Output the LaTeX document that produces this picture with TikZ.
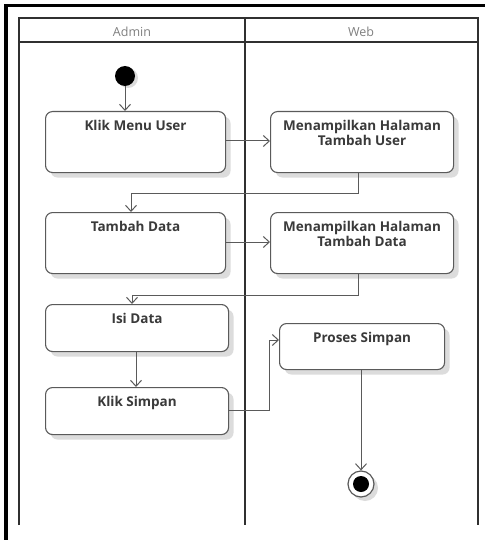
\documentclass[tikz,border=0pt]{standalone}
\usepackage{fontspec}
\setmainfont{Open Sans}
\usetikzlibrary{arrows.meta,shadows}
\definecolor{boxline}{HTML}{5A5A5A}
\definecolor{laneline}{HTML}{303030}
\definecolor{shade}{HTML}{DCDCDC}
\definecolor{labeltext}{HTML}{3A3A3A}
\tikzset{
  act/.style={draw=boxline, line width=1.1pt, fill=white, rounded corners=7pt,
    minimum width=180pt, minimum height=61pt, anchor=north west,
    inner sep=0pt,
    drop shadow={shadow xshift=5pt, shadow yshift=-5pt, fill=shade, opacity=1}},
  actlabel/.style={anchor=north, font=\bfseries\fontsize{13.5}{15}\selectfont,
    text=labeltext, align=center, inner sep=0pt},
  flow/.style={draw=boxline, line width=1pt,
    -{Straight Barb[length=6pt,width=11pt,line width=1pt]}},
  lane/.style={draw=laneline, line width=1.6pt},
  head/.style={font=\fontsize{12.5}{13}\selectfont, text=black!50}
}
\begin{document}
\begin{tikzpicture}[x=1pt,y=-1pt]
  % canvas and frame edges (top and left only)
  \useasboundingbox (0,0) rectangle (485,540);
  \fill[white] (0,0) rectangle (485,540);
  \draw[line width=3.5pt] (6,540) -- (6,5.5) -- (485,5.5);

  % swimlanes
  \draw[lane] (19,525) -- (19,18) -- (478,18) -- (478,525);
  \draw[lane] (19,42) -- (478,42);
  \draw[lane] (245,18) -- (245,525);
  \node[head] (hadmin) at (132,32) {Admin};
  \node[head] (hweb) at (361,32) {Web};

  % start node
  \node[circle, fill=black, minimum size=20pt, inner sep=0pt,
    drop shadow={shadow xshift=3pt, shadow yshift=-2pt, fill=shade, opacity=1}]
    (start) at (125,76) {};

  % activities
  \node[act] (klik) at (45,111) {};
  \node[act, minimum width=183pt] (tampil1) at (270,111) {};
  \node[act] (tambah) at (45,212) {};
  \node[act, minimum width=183pt] (tampil2) at (270,212) {};
  \node[act, minimum width=183pt, minimum height=47pt] (isi) at (45,304) {};
  \node[act, minimum width=183pt, minimum height=47pt] (simpan) at (45,387) {};
  \node[act, minimum width=165pt, minimum height=46pt] (proses) at (279,323) {};

  % activity labels, set near the top edge of each box
  \node[actlabel] (tklik) at ([yshift=-9pt]klik.north) {Klik Menu User};
  \node[actlabel] (ttampil1) at ([yshift=-9pt]tampil1.north) {Menampilkan Halaman\\Tambah User};
  \node[actlabel] (ttambah) at ([yshift=-9pt]tambah.north) {Tambah Data};
  \node[actlabel] (ttampil2) at ([yshift=-9pt]tampil2.north) {Menampilkan Halaman\\Tambah Data};
  \node[actlabel] (tisi) at ([yshift=-9pt]isi.north) {Isi Data};
  \node[actlabel] (tsimpan) at ([yshift=-9pt]simpan.north) {Klik Simpan};
  \node[actlabel] (tproses) at ([yshift=-9pt]proses.north) {Proses Simpan};

  % final node
  \node[circle, draw=boxline, line width=1.2pt, fill=white, minimum size=26pt, inner sep=0pt,
    drop shadow={shadow xshift=4pt, shadow yshift=-4pt, fill=shade, opacity=1}]
    (final) at (361,484) {};
  \node[circle, fill=black, minimum size=16pt, inner sep=0pt] (finaldot) at (final.center) {};

  % control flows
  \draw[flow] (start) -- (start |- klik.north);
  \draw[flow] (klik.east |- 0,141) -- (tampil1.west |- 0,141);
  \draw[flow] (358,172) -- (358,193) -| (131,212);
  \draw[flow] (tambah.east |- 0,242) -- (tampil2.west |- 0,242);
  \draw[flow] (358,273) -- (358,295) -| (132,304);
  \draw[flow] (136,351) -- (136,387);
  \draw[flow] (simpan.east |- 0,410) -- (269,410) -- (269,340) -- (proses.west |- 0,340);
  \draw[flow] (361,369) -- (final.north);
\end{tikzpicture}
\end{document}
